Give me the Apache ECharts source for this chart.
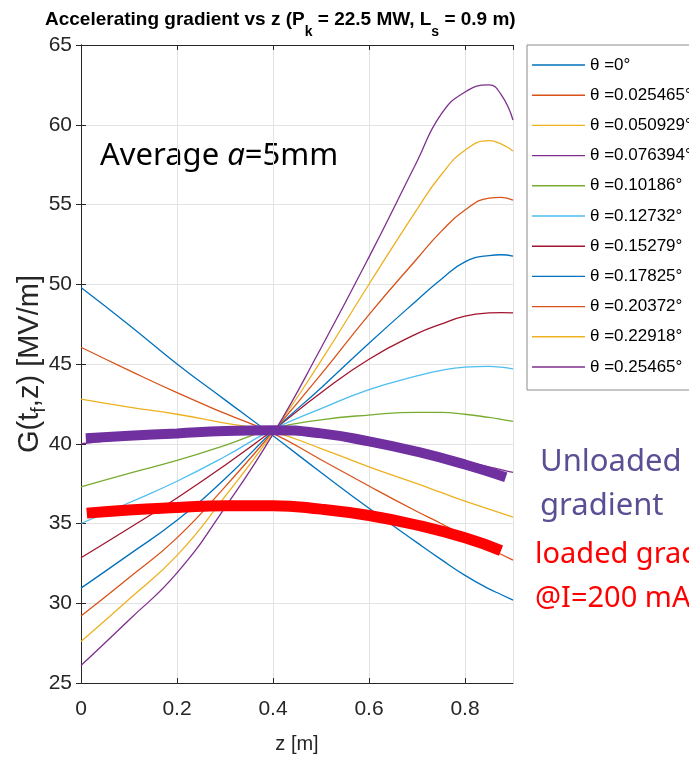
<!DOCTYPE html>
<html>
<head>
<meta charset="utf-8">
<script src="https://cdn.jsdelivr.net/npm/echarts@6/dist/echarts.min.js"></script>
<style>
  html, body { margin: 0; padding: 0; background: #fff; }
  #main { width: 689px; height: 759px; }
</style>
</head>
<body>
<div id="main"></div>
<script>
  // z positions [m]
  var zs = [0, 0.1, 0.2, 0.3, 0.4, 0.5, 0.6, 0.7, 0.75, 0.8, 0.85, 0.875, 0.9];
  var thetaNames = ['θ =0°', 'θ =0.025465°', 'θ =0.050929°', 'θ =0.076394°', 'θ =0.10186°',
    'θ =0.12732°', 'θ =0.15279°', 'θ =0.17825°', 'θ =0.20372°', 'θ =0.22918°', 'θ =0.25465°'];
  var g0 = [49.8, 47.45, 45.0, 42.75, 40.5, 38.2, 35.95, 33.8, 32.75, 31.75, 30.9, 30.55, 30.2];
  var g1 = [46.05, 44.6, 43.2, 41.9, 40.65, 39.0, 37.35, 35.75, 35.0, 34.2, 33.45, 33.07, 32.7];
  var g2 = [42.8, 42.3, 41.85, 41.3, 40.75, 39.7, 38.55, 37.5, 36.95, 36.4, 35.9, 35.65, 35.4];
  var g3 = [40.0, 40.3, 40.55, 40.75, 40.85, 40.6, 40.2, 39.6, 39.25, 38.9, 38.55, 38.38, 38.2];
  var g4 = [37.3, 38.15, 38.95, 39.9, 40.95, 41.5, 41.8, 41.97, 41.97, 41.85, 41.65, 41.53, 41.4];
  var g5 = [35.0, 36.3, 37.65, 39.2, 40.9, 42.2, 43.4, 44.25, 44.6, 44.8, 44.85, 44.8, 44.7];
  var g6 = [32.85, 34.7, 36.6, 38.65, 40.85, 43.2, 45.3, 46.9, 47.5, 48.0, 48.2, 48.22, 48.2];
  var g7 = [30.95, 33.05, 35.2, 37.8, 40.8, 43.5, 46.3, 49.0, 50.3, 51.4, 51.8, 51.85, 51.76];
  var g8 = [29.2, 31.6, 34.1, 37.3, 40.75, 44.35, 48.1, 51.6, 53.3, 54.65, 55.4, 55.45, 55.28];
  var g9 = [27.6, 30.25, 33.0, 36.7, 40.7, 45.2, 50.0, 54.7, 56.85, 58.4, 59.0, 58.8, 58.35];
  var g10 = [26.1, 28.95, 31.9, 36.0, 40.6, 46.0, 51.7, 57.7, 60.65, 62.05, 62.5, 61.9, 60.3];
  var thetaValues = [g0, g1, g2, g3, g4, g5, g6, g7, g8, g9, g10];

  // hand drawn overlays
  var zUnloaded = [0.01, 0.1, 0.2, 0.3, 0.4, 0.5, 0.6, 0.7, 0.8, 0.885];
  var unloaded = [40.35, 40.5, 40.65, 40.8, 40.85, 40.65, 40.15, 39.5, 38.7, 37.9];
  var zLoaded = [0.012, 0.1, 0.2, 0.3, 0.4, 0.5, 0.6, 0.7, 0.8, 0.875];
  var loaded = [35.65, 35.85, 36.0, 36.12, 36.12, 35.9, 35.5, 34.9, 34.1, 33.3];

  var colors = ['#0072BD', '#D95319', '#EDB120', '#7E2F8E', '#77AC30', '#4DBEEE', '#A2142F'];
  var helv = "'Liberation Sans', Arial, sans-serif";
  var body = "'Noto Sans', 'Open Sans', sans-serif";
  var axisColor = '#262626';

  function pairs(xs, ys) {
    return xs.map(function (x, i) { return [x, ys[i]]; });
  }

  var series = thetaValues.map(function (vals, i) {
    return {
      name: thetaNames[i],
      type: 'line',
      smooth: true,
      symbol: 'none',
      lineStyle: { width: 1.3, color: colors[i % colors.length] },
      itemStyle: { color: colors[i % colors.length] },
      data: pairs(zs, vals)
    };
  });
  series.push({
    name: 'Unloaded gradient',
    type: 'line', smooth: true, symbol: 'none', z: 5,
    lineStyle: { width: 10, color: '#7030A0', cap: 'butt' },
    data: pairs(zUnloaded, unloaded)
  });
  series.push({
    name: 'loaded gradient',
    type: 'line', smooth: true, symbol: 'none', z: 5,
    lineStyle: { width: 11, color: '#FF0000', cap: 'butt' },
    data: pairs(zLoaded, loaded)
  });

  var chart = echarts.init(document.getElementById('main'));
  var option = {
    animation: false,
    backgroundColor: '#fff',
    title: {
      text: '{t|Accelerating gradient vs z (P}{s|k}{t| = 22.5 MW, L}{s|s}{t| = 0.9 m)}',
      left: 40, top: 5,
      textStyle: {
        rich: {
          t: { fontFamily: helv, fontWeight: 'bold', fontSize: 19, color: '#000', lineHeight: 22, verticalAlign: 'top' },
          s: { fontFamily: helv, fontWeight: 'bold', fontSize: 14, color: '#000', lineHeight: 14, padding: [15, 0, 0, 0], verticalAlign: 'top' }
        }
      }
    },
    legend: {
      data: thetaNames,
      orient: 'vertical',
      left: 527, top: 45,
      icon: 'rect',
      itemWidth: 53, itemHeight: 1.4, itemGap: 10.2,
      padding: [10, 30, 13, 5],
      borderColor: '#8c8c8c', borderWidth: 1,
      backgroundColor: '#fff',
      textStyle: { fontFamily: helv, fontSize: 17, color: '#000', lineHeight: 20 }
    },
    grid: { left: 81, right: 176, top: 45, bottom: 76, containLabel: false, outerBoundsMode: 'none' },
    xAxis: [{
      type: 'value', min: 0, max: 0.9, interval: 0.2,
      name: 'z [m]', nameLocation: 'middle', nameGap: 51,
      nameTextStyle: { fontFamily: helv, fontSize: 20, color: axisColor },
      axisLine: { lineStyle: { color: axisColor } },
      axisTick: { inside: true, length: 5, lineStyle: { color: axisColor } },
      axisLabel: { fontFamily: helv, fontSize: 21, color: axisColor, margin: 16, showMaxLabel: false },
      splitLine: { show: true, lineStyle: { color: '#e3e3e3' } }
    }, {
      type: 'value', min: 0, max: 0.9, interval: 0.2, position: 'top',
      axisLine: { show: true, lineStyle: { color: axisColor } },
      axisTick: { inside: true, length: 5, lineStyle: { color: axisColor } },
      axisLabel: { show: false },
      splitLine: { show: false }
    }],
    yAxis: [{
      type: 'value', min: 25, max: 65, interval: 5,
      name: '{n|G(t}{s|f}{n|,z) [MV/m]}', nameLocation: 'middle', nameGap: 37,
      nameMoveOverlap: false,
      nameTextStyle: {
        rich: {
          n: { fontFamily: helv, fontSize: 29, color: axisColor, lineHeight: 29, verticalAlign: 'top' },
          s: { fontFamily: helv, fontSize: 20, color: axisColor, lineHeight: 20, padding: [14, 0, 0, 0], verticalAlign: 'top' }
        }
      },
      axisLine: { show: true, lineStyle: { color: axisColor } },
      axisTick: { show: true, inside: true, length: 5, lineStyle: { color: axisColor } },
      axisLabel: { fontFamily: helv, fontSize: 21, color: axisColor, margin: 9 },
      splitLine: { show: true, lineStyle: { color: '#e3e3e3' } }
    }, {
      type: 'value', min: 25, max: 65, interval: 5, position: 'right',
      axisLine: { show: true, lineStyle: { color: axisColor } },
      axisTick: { show: true, inside: true, length: 5, lineStyle: { color: axisColor } },
      axisLabel: { show: false },
      splitLine: { show: false }
    }],
    graphic: [{
      type: 'text', left: 100, top: 141,
      style: {
        text: '{n|Average }{i|a}{n|=5mm}',
        rich: {
          n: { fontFamily: body, fontSize: 31, fill: '#000', lineHeight: 40 },
          i: { fontFamily: body, fontSize: 31, fill: '#000', fontStyle: 'italic', lineHeight: 40 }
        }
      }
    }, {
      type: 'text', left: 540, top: 447,
      style: { text: 'Unloaded', fontFamily: body, fontSize: 31, fill: '#594F94' }
    }, {
      type: 'text', left: 540, top: 491,
      style: { text: 'gradient', fontFamily: body, fontSize: 31, fill: '#594F94' }
    }, {
      type: 'text', left: 535, top: 540,
      style: { text: 'loaded gradient', fontFamily: body, fontSize: 29, fill: '#FF0000' }
    }, {
      type: 'text', left: 535, top: 584,
      style: { text: '@I=200 mA', fontFamily: body, fontSize: 29, fill: '#FF0000' }
    }],
    series: series
  };
  chart.setOption(option);
</script>
</body>
</html>
